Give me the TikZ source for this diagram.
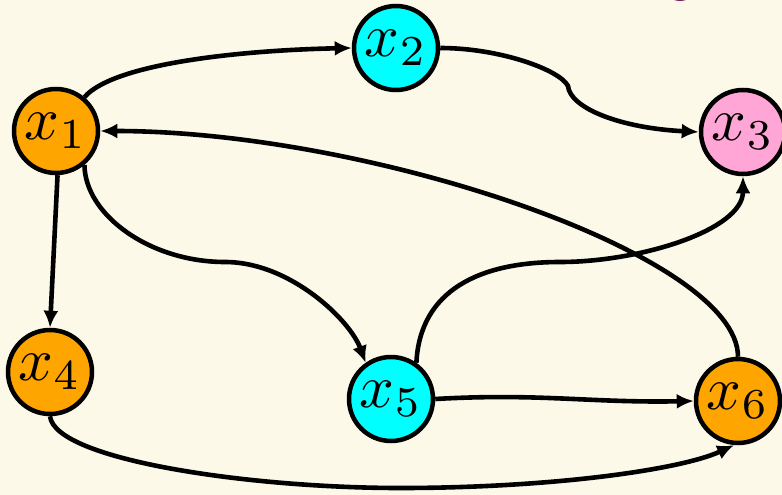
\documentclass[tikz,border=0pt]{standalone}
\usepackage{graphicx}
\usetikzlibrary{arrows.meta}
\definecolor{bgcream}{HTML}{FCF9E9}
\definecolor{nodeorange}{HTML}{FFA500}
\definecolor{nodecyan}{HTML}{00FFFF}
\definecolor{nodepink}{HTML}{FFA6D6}
\definecolor{sliver}{RGB}{128,30,90}
\newcommand{\vlabel}[1]{\scalebox{6.1}{$#1$}}
\tikzset{
  vtx/.style={circle, draw=black, line width=4.5pt, minimum size=84pt, inner sep=0pt},
  conn/.style={line width=4.6pt, -{Latex[length=17pt,width=15pt]}}
}
\begin{document}
\begin{tikzpicture}[x=1pt,y=-1pt]
\fill[bgcream] (0,0) rectangle (782,495);
\useasboundingbox (0,0) rectangle (782,495);
\fill[sliver] (680,-17) circle (18);
\node[vtx, fill=nodeorange] (x1) at (56,131) {\vlabel{x_1}};
\node[vtx, fill=nodecyan]   (x2) at (396,48) {\vlabel{x_2}};
\node[vtx, fill=nodepink]   (x3) at (743,132) {\vlabel{x_3}};
\node[vtx, fill=nodeorange] (x4) at (50,372) {\vlabel{x_4}};
\node[vtx, fill=nodecyan]   (x5) at (391,399) {\vlabel{x_5}};
\node[vtx, fill=nodeorange] (x6) at (738,401) {\vlabel{x_6}};
% x1 -> x2
\draw[conn] (x1.50) .. controls (115,62) and (250,50) .. (x2.west);
% x2 -> x3
\draw[conn] (x2.east) .. controls (500,48) and (560,70) .. (568,86)
  .. controls (570,108) and (620,128) .. (x3.west);
% x6 -> x1
\draw[conn] (x6.north) .. controls (738,255) and (370,131) .. (x1.east);
% x1 -> x4
\draw[conn] (x1.-88) -- (x4.north);
% x1 -> x5
\draw[conn] (x1.-50) .. controls (85,215) and (150,262) .. (225,262)
  .. controls (290,262) and (350,320) .. (x5.125);
% x5 -> x3
\draw[conn] (x5.55) .. controls (420,290) and (480,262) .. (560,262)
  .. controls (640,262) and (743,230) .. (x3.south);
% x5 -> x6
\draw[conn] (x5.east) .. controls (540,393) and (590,403) .. (x6.west);
% x4 -> x6
\draw[conn] (x4.south) .. controls (55,460) and (250,488) .. (400,488)
  .. controls (550,488) and (680,470) .. (x6.-95);
\end{tikzpicture}
\end{document}
